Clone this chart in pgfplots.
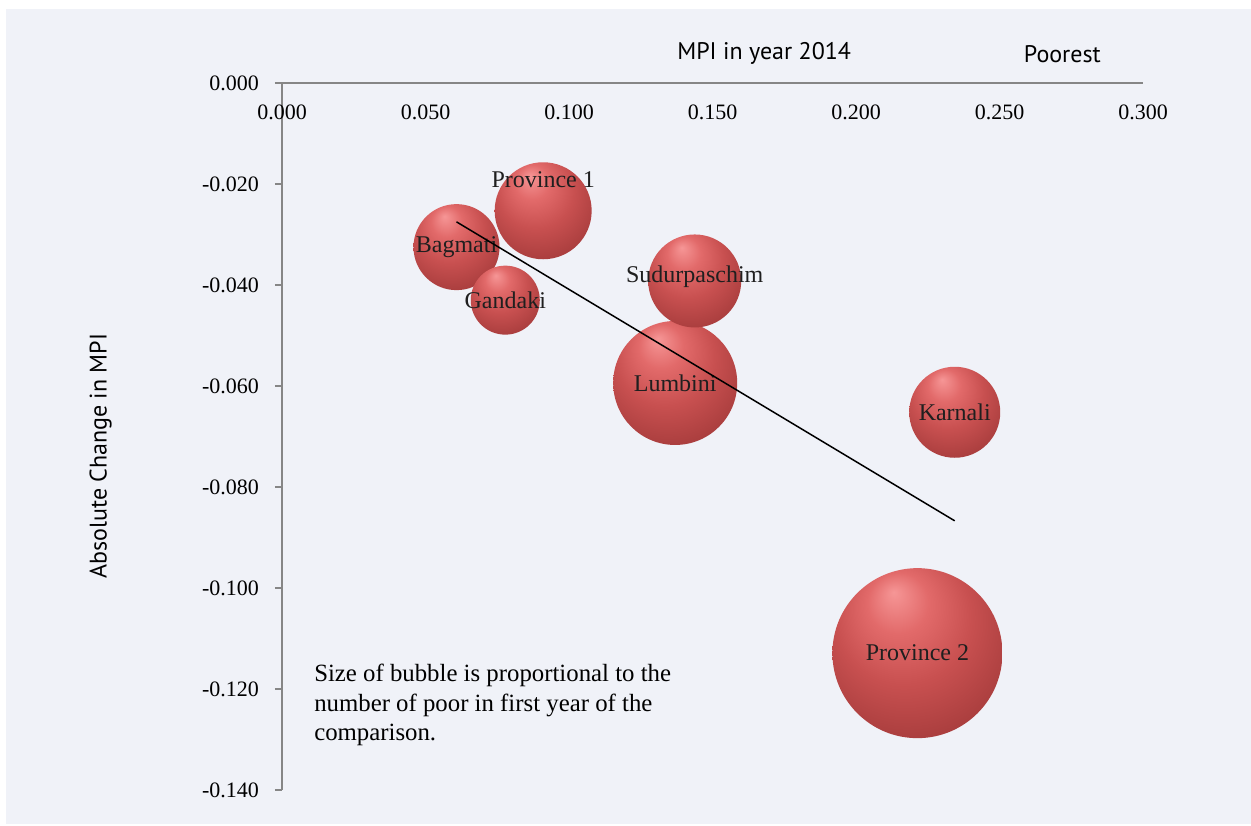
\documentclass[border=0pt]{standalone}
\usepackage{fontspec}
\setmainfont{Liberation Serif}
\newfontfamily\sansf{PT Sans}
\usepackage{pgfplots}
\pgfplotsset{compat=1.18}
\definecolor{panel}{RGB}{240,242,248}
\definecolor{axgray}{RGB}{134,134,134}
\definecolor{bhl}{RGB}{246,150,150}
\definecolor{bc1}{RGB}{226,106,106}
\definecolor{bc2}{RGB}{200,80,80}
\definecolor{bc3}{RGB}{170,62,62}
\definecolor{bc4}{RGB}{118,36,36}
\definecolor{bc5}{RGB}{72,18,18}
\pgfdeclareradialshading{bubble}{\pgfqpoint{-7bp}{18bp}}{color(0bp)=(bhl); color(9bp)=(bc1); color(20bp)=(bc2); color(32bp)=(bc3); color(43bp)=(bc4); color(50bp)=(bc5)}
\pgfdeclareplotmark{bubble}{\pgfpathcircle{\pgfpointorigin}{\pgfplotmarksize}\pgfshadepath{bubble}{0}\pgfusepath{}}
\begin{document}
\begin{tikzpicture}
\fill[white] (-141pt,-17.5pt) rectangle (484.5pt,395pt);
\fill[panel] (-138pt,-17pt) rectangle (484.5pt,390.5pt);
\begin{axis}[
  set layers=axis on top,
  scale only axis,
  width=430.5pt, height=353.5pt,
  xmin=0, xmax=0.3, ymin=-0.14, ymax=0,
  clip=false,
  axis x line*=middle,
  axis y line*=left,
  hide obscured x ticks=false,
  axis line style={axgray, line width=0.75pt},
  xtick={0,0.05,...,0.3},
  ytick={-0.14,-0.12,...,0},
  xtick style={draw=none},
  ytick style={axgray, line width=0.75pt},
  tick align=outside,
  major tick length=3.5pt,
  /pgf/number format/assume math mode=true,
  /pgf/number format/.cd, fixed, fixed zerofill, precision=3, /pgfplots/.cd,
  scaled ticks=false,
  tick label style={font=\fontsize{11}{13}\selectfont, text=black},
  xticklabel style={anchor=center, yshift=-11pt},
  yticklabel style={anchor=east, xshift=-4.5pt},
]
\addplot[scatter, only marks, mark=bubble,
  visualization depends on={\thisrow{r} \as \rad},
  scatter/@pre marker code/.append style={/tikz/mark size=\rad}]
  table {
x y r
0.2214 -0.1129 42.5
0.1370 -0.0594 31.0
0.0910 -0.0253 24.25
0.1438 -0.0392 23.25
0.2344 -0.0652 22.75
0.0608 -0.0325 21.5
0.0778 -0.0430 17.25
};
\addplot[black, line width=0.75pt, on layer=axis foreground] coordinates {(0.0608,-0.0275) (0.2344,-0.0867)};
\addplot[draw=none, mark=none, nodes near coords, point meta=explicit symbolic,
  on layer=axis foreground,
  nodes near coords align=center,
  visualization depends on={\thisrow{dy} \as \dy},
  every node near coord/.append style={font=\fontsize{12}{14}\selectfont, text=black!88, yshift=\dy, inner sep=0pt}]
  table[col sep=comma, meta=name] {
x,y,dy,name
0.2214,-0.1129,0pt,Province 2
0.1370,-0.0594,0pt,Lumbini
0.0910,-0.0253,15.5pt,Province 1
0.1438,-0.0392,2pt,Sudurpaschim
0.2344,-0.0652,0pt,Karnali
0.0608,-0.0325,0pt,Bagmati
0.0778,-0.0430,0pt,Gandaki
};
\node[font=\sansf\fontsize{12}{14}\selectfont] at (axis cs:0.168,0.0058) {MPI in year 2014};
\node[font=\sansf\fontsize{12}{14}\selectfont] at (axis cs:0.2719,0.0058) {Poorest};
\node[font=\sansf\fontsize{12}{14}\selectfont, rotate=90] at (axis cs:-0.0632,-0.0739) {Absolute Change in MPI};
\node[anchor=north west, inner sep=0pt, align=left, font=\fontsize{12.4}{14.7}\selectfont] at (axis cs:0.0111,-0.1150) {Size of bubble is proportional to the\\number of poor in first year of the\\comparison.};
\end{axis}
\pgfresetboundingbox
\useasboundingbox (-141pt,-17.5pt) rectangle (484.5pt,395pt);
\end{tikzpicture}
\end{document}
